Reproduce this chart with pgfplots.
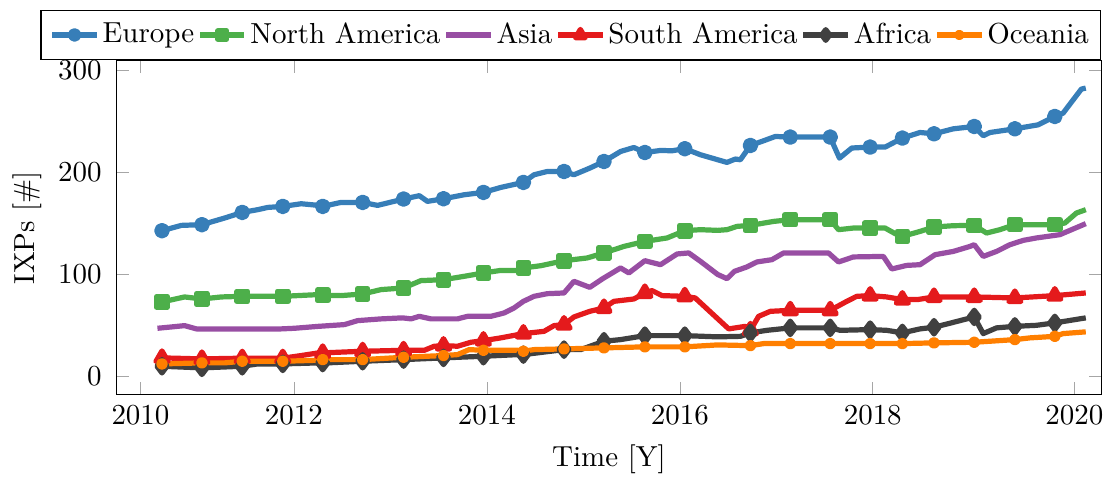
\documentclass[border=0pt]{standalone}
\usepackage{pgfplots}
\usepackage{pgfplotstable}
\pgfplotsset{compat=1.18}

\definecolor{ceurope}{RGB}{55,126,184}
\definecolor{cnamerica}{RGB}{77,175,74}
\definecolor{casia}{RGB}{152,78,163}
\definecolor{csamerica}{RGB}{228,26,28}
\definecolor{cafrica}{RGB}{64,64,64}
\definecolor{coceania}{RGB}{255,127,0}

% t = time (years), v = number of IXPs, m = 1 where a marker is drawn
\pgfplotstableread{
t v m
2010.633 142.9 1
2010.834 148.1 0
2011.047 148.8 1
2011.282 155.3 0
2011.465 160.8 1
2011.626 163.5 0
2011.730 165.7 0
2011.885 166.7 1
2012.076 169.3 0
2012.255 167.7 0
2012.299 166.7 1
2012.489 170.6 0
2012.713 170.6 1
2012.868 167.7 0
2013.137 173.9 1
2013.300 177.2 0
2013.385 171.6 0
2013.551 174.2 1
2013.765 178.1 0
2013.965 180.4 1
2014.145 185.3 0
2014.379 190.2 1
2014.489 197.7 0
2014.627 200.9 0
2014.800 200.9 1
2014.903 197.7 0
2015.067 204.2 0
2015.214 210.7 1
2015.386 220.5 0
2015.524 224.4 0
2015.638 219.5 1
2015.800 221.5 0
2015.920 221.2 0
2016.052 223.2 1
2016.214 217.3 0
2016.393 212.4 0
2016.489 209.8 0
2016.576 213.1 0
2016.628 212.4 0
2016.732 226.4 1
2016.869 231.0 0
2016.990 235.2 0
2017.145 234.6 1
2017.386 234.6 0
2017.559 234.6 1
2017.601 225.4 0
2017.655 214.0 0
2017.783 223.9 0
2017.973 224.8 1
2018.128 224.8 0
2018.307 233.6 1
2018.490 239.1 0
2018.635 237.8 1
2018.835 242.7 0
2019.052 245.0 1
2019.145 235.9 0
2019.215 239.1 0
2019.473 242.7 1
2019.714 246.6 0
2019.887 254.8 1
2019.973 258.1 0
2020.162 281.6 0
2020.208 282.6 0
}\europe

\pgfplotstableread{
t v m
2010.633 73.1 1
2010.868 78.0 0
2011.047 76.0 1
2011.248 78.0 0
2011.465 78.6 1
2011.885 78.6 1
2012.255 80.3 0
2012.299 79.6 1
2012.489 79.3 0
2012.713 80.9 1
2012.903 85.2 0
2013.137 86.8 1
2013.317 94.0 0
2013.551 94.9 1
2013.765 98.2 0
2013.965 101.5 1
2014.145 104.0 0
2014.324 104.0 0
2014.379 106.4 1
2014.559 108.6 0
2014.800 113.5 1
2015.041 116.2 0
2015.214 121.1 1
2015.421 127.5 0
2015.638 132.4 1
2015.869 135.8 0
2016.052 142.9 1
2016.214 143.9 0
2016.393 143.2 0
2016.489 143.9 0
2016.592 147.1 0
2016.732 148.1 1
2016.973 152.0 0
2017.145 153.7 1
2017.386 153.7 0
2017.559 153.7 1
2017.645 143.9 0
2017.800 145.5 0
2017.973 145.5 1
2018.128 145.5 0
2018.232 140.0 0
2018.307 137.3 1
2018.490 142.2 0
2018.635 146.5 1
2018.835 147.8 0
2019.052 148.1 1
2019.180 140.6 0
2019.318 143.9 0
2019.473 148.8 1
2019.697 148.8 0
2019.887 148.8 1
2019.991 150.4 0
2020.111 160.2 0
2020.208 163.5 0
}\namerica

\pgfplotstableread{
t v m
2010.586 47.3 0
2010.730 48.6 0
2010.868 49.9 0
2010.989 46.7 0
2011.178 46.7 0
2011.869 46.7 0
2012.006 47.3 0
2012.255 49.2 0
2012.524 50.9 0
2012.661 54.8 0
2012.903 56.5 0
2013.127 57.5 0
2013.214 56.5 0
2013.300 59.0 0
2013.421 56.5 0
2013.696 56.5 0
2013.799 59.0 0
2014.041 59.0 0
2014.179 62.3 0
2014.282 67.2 0
2014.379 73.7 0
2014.489 78.6 0
2014.627 81.2 0
2014.800 81.9 0
2014.903 93.3 0
2015.067 87.4 0
2015.196 95.6 0
2015.386 106.4 0
2015.472 101.5 0
2015.638 113.5 0
2015.800 109.6 0
2015.972 120.1 0
2016.093 121.1 0
2016.214 112.9 0
2016.393 100.0 0
2016.489 95.9 0
2016.567 103.1 0
2016.696 107.4 0
2016.800 112.3 0
2016.955 114.5 0
2017.076 121.1 0
2017.541 121.1 0
2017.645 112.3 0
2017.800 117.2 0
2018.110 117.7 0
2018.197 105.4 0
2018.352 108.9 0
2018.490 109.6 0
2018.646 119.4 0
2018.835 122.6 0
2019.008 127.5 0
2019.052 129.2 0
2019.145 117.7 0
2019.283 122.6 0
2019.422 129.2 0
2019.559 133.4 0
2019.697 135.8 0
2019.939 139.0 0
2020.208 149.8 0
}\asia

\pgfplotstableread{
t v m
2010.633 18.3 1
2011.047 17.3 1
2011.465 18.0 1
2011.885 18.0 1
2012.076 20.6 0
2012.255 23.2 0
2012.299 23.2 1
2012.713 24.8 1
2013.137 25.7 1
2013.351 25.7 0
2013.455 29.7 0
2013.551 30.3 1
2013.696 29.7 0
2013.834 33.6 0
2013.965 35.2 1
2014.145 37.9 0
2014.379 42.1 1
2014.593 44.3 0
2014.696 49.9 0
2014.800 50.9 1
2014.903 58.4 0
2015.067 63.9 0
2015.214 67.2 1
2015.317 73.7 0
2015.524 76.0 0
2015.638 81.9 1
2015.713 84.2 0
2015.817 79.3 0
2016.052 78.6 1
2016.160 77.0 0
2016.507 46.7 0
2016.680 49.2 0
2016.732 45.3 1
2016.817 59.0 0
2016.938 63.9 0
2017.145 64.9 1
2017.559 64.9 1
2017.731 73.7 0
2017.834 78.6 0
2017.973 79.3 1
2018.145 78.0 0
2018.307 75.4 1
2018.463 75.4 0
2018.635 78.0 1
2019.052 78.0 1
2019.473 77.0 1
2019.887 79.3 1
2020.208 81.9 0
}\samerica

\pgfplotstableread{
t v m
2010.633 10.1 1
2011.047 8.5 1
2011.465 10.1 1
2011.626 12.4 0
2011.885 12.4 1
2012.255 13.4 0
2012.299 13.2 1
2012.713 15.0 1
2013.137 16.6 1
2013.551 18.3 1
2013.965 19.9 1
2014.324 21.5 0
2014.379 21.5 1
2014.800 26.4 1
2014.973 26.4 0
2015.214 34.6 1
2015.386 36.2 0
2015.638 40.1 1
2015.800 40.1 0
2016.052 40.1 1
2016.393 38.9 0
2016.628 39.4 0
2016.732 42.8 1
2016.904 45.3 0
2017.145 47.7 1
2017.559 47.7 1
2017.663 45.3 0
2017.973 46.0 1
2018.145 45.3 0
2018.307 42.8 1
2018.490 46.7 0
2018.635 48.3 1
2018.835 53.1 0
2019.052 58.4 1
2019.145 42.1 0
2019.283 47.7 0
2019.473 49.2 1
2019.697 50.2 0
2019.887 52.6 1
2020.208 57.5 0
}\africa

\pgfplotstableread{
t v m
2010.633 12.4 1
2011.047 13.4 1
2011.282 13.4 0
2011.465 15.0 1
2011.885 15.0 1
2012.255 16.0 0
2012.299 16.6 1
2012.713 16.6 1
2013.137 18.9 1
2013.551 20.6 1
2013.696 21.5 0
2013.817 26.4 0
2013.965 25.7 1
2014.324 25.7 0
2014.379 24.8 1
2014.489 26.4 0
2014.800 27.1 1
2015.214 28.1 1
2015.638 29.1 1
2016.052 29.1 1
2016.393 31.0 0
2016.732 30.3 1
2016.869 32.3 0
2017.145 32.3 1
2017.559 32.3 1
2017.973 32.3 1
2018.307 32.3 1
2018.635 33.0 1
2019.052 33.6 1
2019.473 36.2 1
2019.629 37.9 0
2019.887 39.4 1
2019.973 42.1 0
2020.208 43.8 0
}\oceania

\pgfplotsset{
  series/.style={line width=1.8pt, line join=round, mark options={solid}},
  europe/.style={series, ceurope, mark=*, mark size=1.8pt},
  namerica/.style={series, cnamerica, mark=square*, mark size=1.8pt},
  asia/.style={series, casia, mark=none},
  samerica/.style={series, csamerica, mark=triangle*, mark size=2.4pt},
  africa/.style={series, cafrica, mark=diamond*, mark size=2.3pt},
  oceania/.style={series, coceania, mark=*, mark size=1.1pt},
  onlymarkers/.style={only marks, forget plot, restrict expr to domain={\thisrow{m}}{1:1}},
}

\begin{document}
\begin{tikzpicture}
\begin{axis}[
  name=ax,
  scale only axis,
  width=340pt, height=115.2pt,
  xmin=2010.161, xmax=2020.369,
  ymin=-17.6, ymax=309.3,
  xtick={2010.41,2012,2014,2016,2018,2020.09},
  xticklabels={2010,2012,2014,2016,2018,2020},
  ytick={0,100,200,300},
  major tick style={gray!70},
  yticklabel style={xshift=-1.6pt},
  xlabel={Time [Y]},
  ylabel={IXPs [\#]},
  ylabel style={at={(axis description cs:0,0.5)}, anchor=south, yshift=22.4pt},
  legend columns=6,
  legend image code/.code={
    \draw[mark repeat=2, mark phase=2, #1]
      plot coordinates {(0cm,0cm) (0.27cm,0cm) (0.54cm,0cm)};},
  legend image post style={mark options={solid, scale=0.8}},
  legend style={at={(1,1)}, anchor=south east, yshift=0.4pt, draw=black,
    inner ysep=2pt, nodes={inner xsep=1.12pt}},
]
\addlegendimage{europe}\addlegendentry{Europe}
\addlegendimage{namerica}\addlegendentry{North America}
\addlegendimage{asia}\addlegendentry{Asia}
\addlegendimage{samerica}\addlegendentry{South America}
\addlegendimage{africa}\addlegendentry{Africa}
\addlegendimage{oceania}\addlegendentry{Oceania}

\addplot[europe, mark=none, forget plot] table[x=t, y=v] {\europe};
\addplot[europe, onlymarkers] table[x=t, y=v] {\europe};
\addplot[namerica, mark=none, forget plot] table[x=t, y=v] {\namerica};
\addplot[namerica, onlymarkers] table[x=t, y=v] {\namerica};
\addplot[asia, forget plot] table[x=t, y=v] {\asia};
\addplot[samerica, mark=none, forget plot] table[x=t, y=v] {\samerica};
\addplot[samerica, onlymarkers] table[x=t, y=v] {\samerica};
\addplot[africa, mark=none, forget plot] table[x=t, y=v] {\africa};
\addplot[africa, onlymarkers] table[x=t, y=v] {\africa};
\addplot[oceania, mark=none, forget plot] table[x=t, y=v] {\oceania};
\addplot[oceania, onlymarkers] table[x=t, y=v] {\oceania};
\end{axis}
% page margins as in the reference
\path ([shift={(-40.2pt,-26.9pt)}]ax.south west) rectangle ([shift={(3.3pt,21pt)}]ax.north east);
\end{tikzpicture}
\end{document}
